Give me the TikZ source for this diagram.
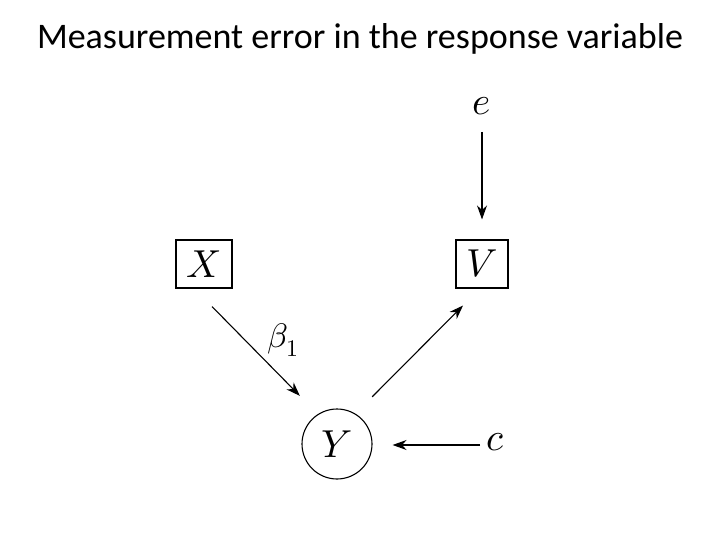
\documentclass[tikz,border=0pt]{standalone}
\usepackage{fontspec}
\usepackage{unicode-math}
\setmainfont{Carlito}
\setmathfont{Latin Modern Math}
\usetikzlibrary{arrows.meta,calc}
\begin{document}
\begin{tikzpicture}[x=1pt,y=-1pt,
  var/.style={font=\fontsize{39}{44}\selectfont},
  obsbox/.style={var,draw,line width=1.1pt,minimum width=56pt,minimum height=48pt,inner sep=0pt},
  latent/.style={var,draw,circle,line width=1.1pt,minimum size=70pt,inner sep=0pt},
  edge/.style={line width=1.1pt,-{Stealth[length=14pt,width=10pt]}}]
\useasboundingbox (0,0) rectangle (720,540);
\node[font=\fontsize{36}{42}\selectfont,anchor=base] (title) at (360,49) {Measurement error in the response variable};
\node[obsbox] (X) at (204,264) {$X$};
\node[obsbox,minimum width=52pt] (V) at (482,264) {$V$};
\node[latent] (Y) at (337,444) {$Y$};
\node[var] (e) at (482,106) {$e$};
\node[var] (c) at (495,442) {$c$};
\node[font=\fontsize{34}{40}\selectfont] (b1) at (283,340) {$\beta_1$};
\draw[edge] ($(X.south)+(8,18)$) -- ($(Y.135)+(-12,-23)$);
\draw[edge] ($(Y.45)+(10,-22)$) -- ($(V.south)+(-19,17)$);
\draw[edge] ($(e)+(0,26)$) -- ($(V.north)+(0,-20)$);
\draw[edge,line width=1.6pt] ($(c)+(-15,3)$) -- ($(Y.east)+(20,1)$);
\end{tikzpicture}
\end{document}
